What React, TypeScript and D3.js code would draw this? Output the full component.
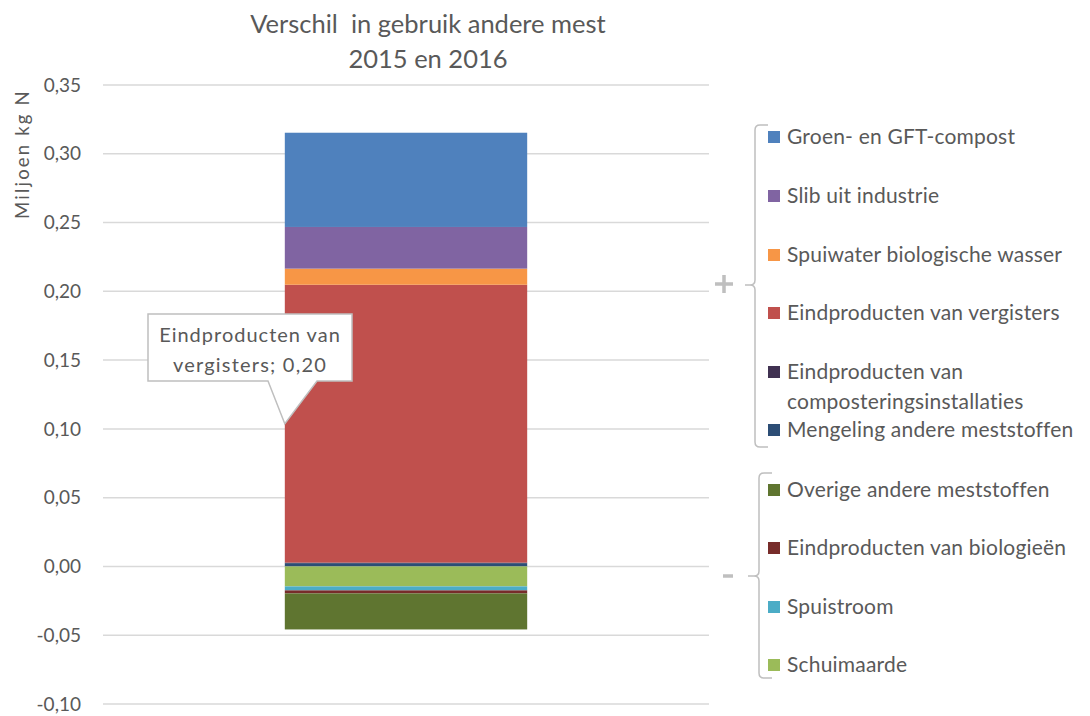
import React from 'react';
import * as d3 from 'd3';

// stack order, bottom-up for positives, top-down for negatives
const seriesNames = [
  'Mengeling andere meststoffen',
  'Eindproducten van composteringsinstallaties',
  'Eindproducten van vergisters',
  'Spuiwater biologische wasser',
  'Slib uit industrie',
  'Groen- en GFT-compost',
  'Schuimaarde',
  'Spuistroom',
  'Eindproducten van biologieën',
  'Overige andere meststoffen',
];
const seriesValues = [0.0024, 0.0004, 0.202, 0.0117, 0.0303, 0.0685, -0.0145, -0.0029, -0.0022, -0.0262];
const seriesColors = ['#2c4d75', '#403151', '#c0504d', '#f79646', '#8064a2', '#4f81bd', '#9bbb59', '#4bacc6', '#772c2a', '#5f7530'];
const categories = ['2015-2016'];
const yTicks = [-0.1, -0.05, 0, 0.05, 0.1, 0.15, 0.2, 0.25, 0.3, 0.35];

// legend, as listed in the picture
const legendPlus = [
  ['Groen- en GFT-compost'],
  ['Slib uit industrie'],
  ['Spuiwater biologische wasser'],
  ['Eindproducten van vergisters'],
  ['Eindproducten van', 'composteringsinstallaties'],
  ['Mengeling andere meststoffen'],
];
const legendPlusKeys = [5, 4, 3, 2, 1, 0];
const legendMin = [['Overige andere meststoffen'], ['Eindproducten van biologieën'], ['Spuistroom'], ['Schuimaarde']];
const legendMinKeys = [9, 8, 7, 6];

const font = 'Lato, "Open Sans", sans-serif';
const textColor = '#595959';
const grey = '#bfbfbf';

export default function App() {
  const width = 1090, height = 716;
  const x = d3.scaleBand().domain(categories).range([103, 709]).padding(0.4286);
  const y = d3.scaleLinear().domain([-0.1, 0.35]).range([704, 85]);

  const row: any = { cat: categories[0] };
  seriesNames.forEach((n, i) => { row[n] = seriesValues[i]; });
  const stacked = d3.stack<any>().keys(seriesNames).offset(d3.stackOffsetDiverging)([row]);

  const fmt = (v: number) => d3.format('.2f')(v).replace('.', ',').replace('−', '-');

  const red = stacked[2][0];
  const tipY = y((red[0] + red[1]) / 2);
  const bx = x(categories[0])!;

  const legendRow = (lines: string[], color: string, cy: number, key: string) => (
    <g key={key}>
      <rect x={768} y={cy - 6} width={12} height={12} fill={color} />
      {lines.map((l, j) => (
        <text key={j} x={787} y={cy + j * 30} dy="0.35em" fontSize={21} fill={textColor} fontFamily={font} letterSpacing={0.2}>{l}</text>
      ))}
    </g>
  );
  const plusY = [137, 196, 255, 313, 372, 430];
  const minY = [490, 548, 607, 665];

  return (
    <svg width={width} height={height} style={{ position: 'absolute', left: 0, top: 0 }}>
      <rect width={width} height={height} fill="#fff" />
      <text x={428} y={24} dy="0.35em" textAnchor="middle" fontSize={25.5} fill={textColor} fontFamily={font} style={{ whiteSpace: 'pre' }}>Verschil  in gebruik andere mest</text>
      <text x={428} y={59} dy="0.35em" textAnchor="middle" fontSize={25.5} fill={textColor} fontFamily={font}>2015 en 2016</text>

      {yTicks.map(t => (
        <g key={t}>
          <line x1={103} x2={709} y1={y(t)} y2={y(t)} stroke="#d9d9d9" strokeWidth={1.5} />
          <text x={81} y={y(t)} dy="0.35em" textAnchor="end" fontSize={19} fill={textColor} fontFamily={font}>{fmt(t)}</text>
        </g>
      ))}
      <text transform="translate(23,154) rotate(-90)" textAnchor="middle" dy="0.35em" fontSize={18.5} fill={textColor} fontFamily={font} letterSpacing={2.2}>Miljoen kg N</text>

      {stacked.map((s, i) => (
        <rect key={s.key} x={bx} width={x.bandwidth()} y={y(Math.max(s[0][0], s[0][1]))}
          height={Math.abs(y(s[0][0]) - y(s[0][1]))} fill={seriesColors[i]} />
      ))}

      <path d={`M148,314 H352 V381 H317 L${bx},${tipY} L268,381 H148 Z`} fill="#fff" stroke={grey} strokeWidth={1.5} />
      <text x={250} y={335} dy="0.35em" textAnchor="middle" fontSize={20} fill={textColor} fontFamily={font} letterSpacing={1}>Eindproducten van</text>
      <text x={250} y={365} dy="0.35em" textAnchor="middle" fontSize={20} fill={textColor} fontFamily={font} letterSpacing={1.2}>vergisters; {fmt(seriesValues[2])}</text>

      {legendPlus.map((lines, i) => legendRow(lines, seriesColors[legendPlusKeys[i]], plusY[i], 'p' + i))}
      {legendMin.map((lines, i) => legendRow(lines, seriesColors[legendMinKeys[i]], minY[i], 'm' + i))}

      <path d="M768,125 H760 Q755,125 755,130 V280 Q755,285 750,285 H745 M750,285 Q755,285 755,290 V442 Q755,447 760,447 H768"
        fill="none" stroke={grey} strokeWidth={1.5} />
      <path d="M715,284 H733 M724,275 V293" stroke={grey} strokeWidth={3.5} />

      <path d="M772,473 H764 Q759,473 759,478 V571 Q759,576 754,576 H748 M754,576 Q759,576 759,581 V673 Q759,678 764,678 H772"
        fill="none" stroke={grey} strokeWidth={1.5} />
      <line x1={723} x2={733} y1={576} y2={576} stroke={grey} strokeWidth={3.5} />
    </svg>
  );
}
